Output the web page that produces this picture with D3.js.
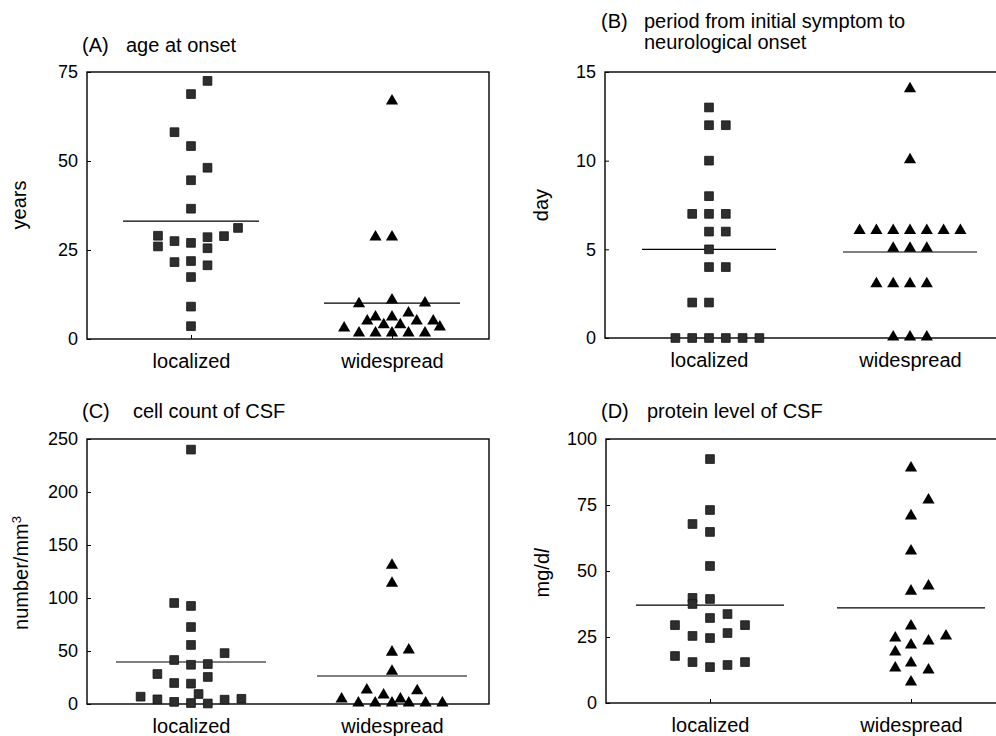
<!DOCTYPE html>
<html>
<head>
<meta charset="utf-8">
<script src="https://cdn.jsdelivr.net/npm/d3@7"></script>
<style>
  body { margin: 0; background: #fff; }
  svg { display: block; font-family: "Liberation Sans", Arial, Helvetica, sans-serif; }
</style>
</head>
<body>
<svg id="chart" width="996" height="736"></svg>
<script>
// ── Data: [value, dodge slot] ─────────────────────────────────────────────────
const groups = ['localized', 'widespread'];

const ageTicks = [0, 25, 50, 75];
const ageLocalized = [
  [72.5, 1], [68.8, 0], [58.1, -1], [54.2, 0], [48.1, 1], [44.6, 0], [36.6, 0],
  [31.2, 2.85], [28.9, 2], [29, -2], [26, -2], [27.5, -1], [27, 0], [28.6, 1],
  [25.5, 1], [21.6, -1], [21.9, 0], [20.7, 1], [17.4, 0], [9.1, 0], [3.6, 0]
];
const ageWidespread = [
  [66.6, 0], [28.4, -1], [28.4, 0], [9.6, -2], [10.7, 0], [9.8, 2], [7.0, 1],
  [5.9, -1], [5.9, 0], [4.8, -1.5], [4.8, 1.5], [4.8, 2.5], [3.7, -0.5], [3.7, 0.5],
  [2.8, -2.9], [3.1, 2.9], [1.4, -2], [1.4, -1], [1.4, 0], [1.4, 1], [1.4, 2]
];
const ageMeans = [33.1, 10.1];

const dayTicks = [0, 5, 10, 15];
const dayLocalized = [
  [13, 0], [12, 0], [12, 1], [10, 0], [8, 0], [7, -1], [7, 0], [7, 1], [6, 0], [6, 1],
  [5, 0], [4, 0], [4, 1], [2, -1], [2, 0],
  [0, -2], [0, -1], [0, 0], [0, 1], [0, 2], [0, 3]
];
const dayWidespread = [
  [14, 0], [10, 0],
  [6, -3], [6, -2], [6, -1], [6, 0], [6, 1], [6, 2], [6, 3],
  [5, -1], [5, 0], [5, 1],
  [3, -2], [3, -1], [3, 0], [3, 1],
  [0, -1], [0, 0], [0, 1]
];
const dayMeans = [5.0, 4.85];

const cellTicks = [0, 50, 100, 150, 200, 250];
const cellLocalized = [
  [240, 0], [95.3, -1], [92.5, 0], [72.6, 0], [55.7, 0], [48, 2], [41.5, -1],
  [37, 0], [37.7, 1], [28.3, -2], [25.5, 1], [19.8, -1], [19.2, 0], [9.4, 0.45],
  [6.9, -3], [4.4, -2], [4.1, 2], [4.9, 3], [2, -1], [0.9, 0], [0.5, 1]
];
const cellWidespread = [
  [130, 0], [113, 0], [48, 0], [50, 1], [30, 0], [12.3, -1.5], [11.6, 1.5],
  [7.5, -0.5], [3.8, -3], [3.8, 0.5],
  [0, -2], [0, -1], [0, 0], [0, 1], [0, 2], [0, 3]
];
const cellMeans = [39.6, 26.4];

const proteinTicks = [0, 25, 50, 75, 100];
const proteinLocalized = [
  [92.4, 0], [73.1, 0], [67.8, -1], [64.8, 0], [51.9, 0], [39.8, -1], [37.5, -1],
  [39.4, 0], [33.7, 1], [32.2, 0], [29.5, -2], [29.5, 2], [25.4, -1], [26.5, 1],
  [24.6, 0], [17.8, -2], [15.5, -1], [15.5, 2], [14.4, 1], [13.6, 0]
];
const proteinWidespread = [
  [88.6, 0], [76.5, 1], [70.5, 0], [57.2, 0], [43.9, 1], [42, 0], [28.8, 0],
  [25, 2], [24.2, -0.9], [23.1, 1], [21.6, 0], [18.9, -0.9], [14.8, 0],
  [12.9, -0.9], [12.1, 1], [7.6, 0]
];
const proteinMeans = [37.1, 36.0];

// ── Panel layout ──────────────────────────────────────────────────────────────
const panels = [
  { tag: '(A)', title: ['age at onset'], tagX: 82, textX: 126, titleY: 52,
    ylab: 'years', labX: 26, labY: 205,
    ticks: ageTicks, loc: ageLocalized, wide: ageWidespread, means: ageMeans,
    left: 87, top: 72, h: 267, step: 16.5, half: 68 },
  { tag: '(B)', title: ['period from initial symptom to', 'neurological onset'], tagX: 601, textX: 644, titleY: 28,
    ylab: 'day', labX: 548, labY: 205,
    ticks: dayTicks, loc: dayLocalized, wide: dayWidespread, means: dayMeans,
    left: 605, top: 72, h: 266, step: 16.8, half: 67 },
  { tag: '(C)', title: ['cell count of CSF'], tagX: 82, textX: 133, titleY: 418,
    ylab: 'number/mm', sup: '3', labX: 28, labY: 573,
    ticks: cellTicks, loc: cellLocalized, wide: cellWidespread, means: cellMeans,
    left: 87, top: 439, h: 265, step: 16.8, half: 75 },
  { tag: '(D)', title: ['protein level of CSF'], tagX: 601, textX: 647, titleY: 418,
    ylab: 'mg/d', ital: 'l', labX: 549, labY: 573,
    ticks: proteinTicks, loc: proteinLocalized, wide: proteinWidespread, means: proteinMeans,
    left: 606, top: 439, h: 264, step: 17.5, half: 74 }
];

const W = 402;           // frame width
const FONT = 20;
const TICK_FONT = 18;

const svg = d3.select('#chart');

const square = d3.symbol().type(d3.symbolSquare).size(76)();
const triangle = d3.symbol().type(d3.symbolTriangle).size(64)();

for (const p of panels) {
  const g = svg.append('g').attr('transform', `translate(${p.left},${p.top})`);
  const max = p.ticks[p.ticks.length - 1];
  const y = d3.scaleLinear().domain([0, max]).range([p.h, 0]);
  const x = d3.scalePoint().domain(groups).range([104, 305]);

  // y axis: inward ticks
  g.append('g')
    .call(d3.axisLeft(y).tickValues(p.ticks).tickSize(-4).tickPadding(9))
    .call(ax => ax.select('.domain').remove())
    .call(ax => ax.selectAll('line').attr('stroke', '#000').attr('stroke-width', 1))
    .call(ax => ax.selectAll('text').attr('fill', '#000')
      .attr('font-size', TICK_FONT).attr('font-family', null));

  // x axis: inward ticks at category centres
  g.append('g').attr('transform', `translate(0,${p.h})`)
    .call(d3.axisBottom(x).tickSize(-4).tickPadding(15))
    .call(ax => ax.select('.domain').remove())
    .call(ax => ax.selectAll('line').attr('stroke', '#000').attr('stroke-width', 1))
    .call(ax => ax.selectAll('text').attr('fill', '#000')
      .attr('font-size', FONT).attr('font-family', null));

  // frame
  g.append('rect').attr('width', W).attr('height', p.h)
    .attr('fill', 'none').attr('stroke', '#000').attr('stroke-width', 1.4);

  // mean lines
  g.selectAll('line.mean')
    .data(p.means)
    .join('line')
    .attr('class', 'mean')
    .attr('x1', (d, i) => x(groups[i]) - p.half)
    .attr('x2', (d, i) => x(groups[i]) + p.half)
    .attr('y1', d => y(d)).attr('y2', d => y(d))
    .attr('stroke', '#000').attr('stroke-width', 1.2);

  // localized: squares
  g.selectAll('path.sq')
    .data(p.loc)
    .join('path')
    .attr('class', 'sq')
    .attr('d', square)
    .attr('transform', d => `translate(${x('localized') + d[1] * p.step},${y(d[0])})`)
    .attr('fill', '#2e2e2e').attr('stroke', '#111').attr('stroke-width', 0.8);

  // widespread: triangles
  g.selectAll('path.tri')
    .data(p.wide)
    .join('path')
    .attr('class', 'tri')
    .attr('d', triangle)
    .attr('transform', d => `translate(${x('widespread') + d[1] * p.step},${y(d[0]) - 1})`)
    .attr('fill', '#000');

  // title
  svg.append('text').attr('x', p.tagX).attr('y', p.titleY)
    .attr('font-size', FONT).text(p.tag);
  p.title.forEach((t, i) => {
    svg.append('text').attr('x', p.textX).attr('y', p.titleY + i * 21)
      .attr('font-size', FONT).text(t);
  });

  // y label
  const lab = svg.append('text')
    .attr('transform', `translate(${p.labX},${p.labY}) rotate(-90)`)
    .attr('text-anchor', 'middle')
    .attr('font-size', FONT)
    .text(p.ylab);
  if (p.sup) lab.append('tspan').attr('dy', -7).attr('font-size', 13).text(p.sup);
  if (p.ital) lab.append('tspan').attr('font-style', 'italic').text(p.ital);
}
</script>
</body>
</html>
